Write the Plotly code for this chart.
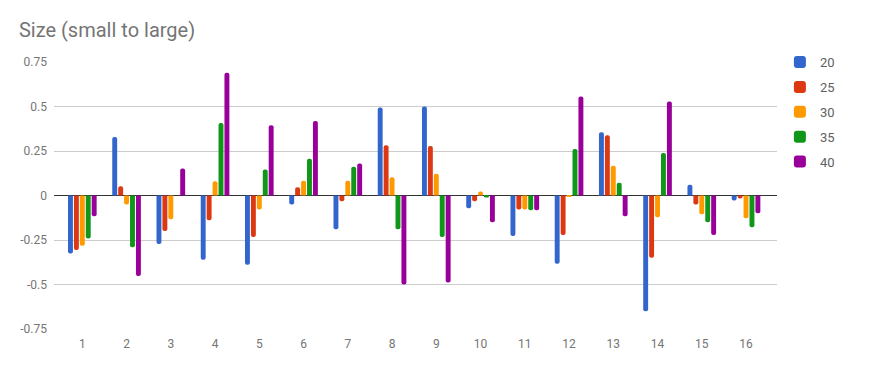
import plotly.graph_objects as go

categories = [str(i) for i in range(1, 17)]
series_names = ["20", "25", "30", "35", "40"]

s20 = [-0.326, 0.328, -0.272, -0.361, -0.389, -0.05, -0.189, 0.494,
       0.5, -0.072, -0.228, -0.383, 0.356, -0.65, 0.061, -0.028]
s25 = [-0.306, 0.052, -0.2, -0.139, -0.233, 0.046, -0.033, 0.283,
       0.278, -0.033, -0.078, -0.222, 0.339, -0.35, -0.05, -0.017]
s30 = [-0.283, -0.05, -0.133, 0.08, -0.078, 0.083, 0.083, 0.102,
       0.122, 0.022, -0.078, -0.006, 0.167, -0.122, -0.106, -0.128]
s35 = [-0.241, -0.291, 0.0, 0.407, 0.146, 0.207, 0.161, -0.189,
       -0.233, -0.011, -0.083, 0.261, 0.072, 0.239, -0.15, -0.178]
s40 = [-0.117, -0.452, 0.152, 0.689, 0.394, 0.419, 0.18, -0.5,
       -0.489, -0.15, -0.083, 0.556, -0.117, 0.528, -0.222, -0.1]

colors = ["#3366cc", "#dc3912", "#ff9900", "#109618", "#990099"]

fig = go.Figure()
for name, vals, col in zip(series_names, [s20, s25, s30, s35, s40], colors):
    fig.add_trace(go.Bar(x=categories, y=vals, name=name, legendgroup=name,
                         marker=dict(color=col, line=dict(width=0))))

# page body has an 8px margin, so the figure is sized to fit inside it
fig.update_layout(
    width=863, height=355,
    margin=dict(l=44, r=94, t=54, b=32),
    paper_bgcolor="white", plot_bgcolor="white",
    font=dict(family="Roboto", size=12, color="#757575"),
    title=dict(text="Size (small to large)", x=0.0127, xanchor="left",
               y=0.918, yanchor="bottom",
               font=dict(family="Roboto", size=20, color="#757575")),
    barmode="group", bargap=0.33, bargroupgap=0.17, barcornerradius=3,
    showlegend=True,
    legend=dict(x=1.004, xanchor="left", y=1.056, yanchor="top",
                traceorder="grouped", tracegroupgap=5,
                font=dict(family="Roboto", size=13, color="#616161")),
)
fig.update_xaxes(range=[-0.64, 15.7], showgrid=False, zeroline=False,
                 showline=False, ticks="", ticklabelstandoff=6,
                 tickfont=dict(size=12, color="#757575"))
fig.update_yaxes(range=[-0.75, 0.75], tickvals=[-0.75, -0.5, -0.25, 0, 0.25, 0.5, 0.75],
                 ticktext=["-0.75", "-0.5", "-0.25", "0", "0.25", "0.5", "0.75"],
                 showgrid=True, gridcolor="#cccccc", gridwidth=1,
                 zeroline=True, zerolinecolor="#333333", zerolinewidth=1,
                 ticks="", ticklabelstandoff=6,
                 tickfont=dict(size=12, color="#757575"))

fig.write_html("out.html")
